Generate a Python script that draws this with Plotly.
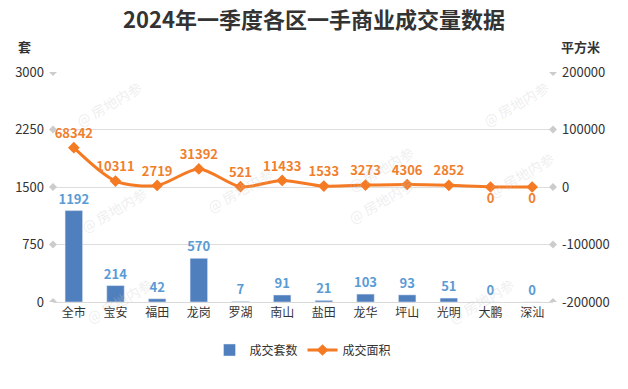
import plotly.graph_objects as go

categories = ["全市", "宝安", "福田", "龙岗", "罗湖", "南山", "盐田", "龙华", "坪山", "光明", "大鹏", "深汕"]
units = [1192, 214, 42, 570, 7, 91, 21, 103, 93, 51, 0, 0]
area = [68342, 10311, 2719, 31392, 521, 11433, 1533, 3273, 4306, 2852, 0, 0]
left_ticks = [0, 750, 1500, 2250, 3000]
right_ticks = [-200000, -100000, 0, 100000, 200000]

FONT = "Noto Sans CJK SC"
BAR_C = "#4F7FBD"
LINE_C = "#F47A24"

W, H = 628, 389
ml, mr, mt, mb = 53, 75, 72, 87
pw, ph = W - ml - mr, H - mt - mb

def px(x):
    return (x - ml) / pw

def py(y):
    return (H - mb - y) / ph

fig = go.Figure()
fig.add_trace(go.Bar(
    x=categories, y=units, name="成交套数", marker_color=BAR_C,
    text=[str(v) for v in units], textposition="outside", constraintext="none",
    textfont=dict(color="#5B9BD5", size=13, family=FONT, weight="bold"),
    cliponaxis=False, yaxis="y",
))
pos = ["top center"] * 10 + ["bottom center"] * 2
fig.add_trace(go.Scatter(
    x=categories, y=area, name="成交面积", mode="lines+markers+text",
    line=dict(color=LINE_C, width=3, shape="spline", smoothing=0.8),
    marker=dict(symbol="diamond", size=9, color=LINE_C),
    text=[str(v) for v in area], textposition=pos,
    textfont=dict(color="#F07F2E", size=13, family=FONT, weight="bold"),
    cliponaxis=False, yaxis="y2",
))

annotations = [
    dict(text="<b>套</b>", x=px(24), y=py(47), xref="paper", yref="paper", showarrow=False,
         xanchor="center", yanchor="middle", font=dict(size=13, color="#333", family=FONT)),
    dict(text="<b>平方米</b>", x=px(580), y=py(47), xref="paper", yref="paper", showarrow=False,
         xanchor="center", yanchor="middle", font=dict(size=13, color="#333", family=FONT)),
]
for (wx, wy) in [(70, 75), (555, 75), (75, 210), (240, 190), (420, 140), (560, 175), (420, 230), (80, 330), (520, 330)]:
    annotations.append(dict(text="@ 房地内参", x=px(wx), y=py(wy), xref="paper", yref="paper",
                            showarrow=False, textangle=-30,
                            font=dict(size=14, color="rgba(200,200,200,0.3)", family=FONT)))

diamond = "M -4 0 L 0 4 L 4 0 L 0 -4 Z"
shapes = []
for t in left_ticks:
    shapes.append(dict(type="path", xref="paper", yref="y", xsizemode="pixel", ysizemode="pixel",
                       xanchor=0, yanchor=t, path=diamond, fillcolor="#CCCCCC", line=dict(width=0)))
for t in right_ticks:
    shapes.append(dict(type="path", xref="paper", yref="y2", xsizemode="pixel", ysizemode="pixel",
                       xanchor=1, yanchor=t, path=diamond, fillcolor="#CCCCCC", line=dict(width=0)))

fig.update_layout(
    width=W, height=H,
    margin=dict(l=ml, r=mr, t=mt, b=mb, autoexpand=False),
    paper_bgcolor="white", plot_bgcolor="white",
    title=dict(text="<b>2024年一季度各区一手商业成交量数据</b>", x=0.5, xref="container",
               y=1 - 20 / H, yref="container",
               xanchor="center", yanchor="middle", font=dict(size=22, color="#333", family=FONT)),
    font=dict(family=FONT, size=12, color="#333"),
    bargap=0.58,
    showlegend=True,
    legend=dict(orientation="h", x=0.5, xanchor="center", y=py(350), yanchor="middle",
                font=dict(size=12, color="#333", family=FONT)),
    xaxis=dict(showline=True, linecolor="#D9D9D9", ticks="", automargin=False,
               range=[-0.5, len(categories) - 0.5],
               tickfont=dict(size=12, color="#333")),
    yaxis=dict(range=[0, 3000], tickvals=left_ticks, showgrid=True, gridcolor="#DDDDDD",
               zeroline=False, ticks="", automargin=False,
               tickfont=dict(size=13, color="#333"), ticklabelstandoff=8),
    yaxis2=dict(range=[-200000, 200000], tickvals=right_ticks, ticktext=[str(v) for v in right_ticks],
                overlaying="y", side="right", automargin=False,
                showgrid=False, zeroline=False, ticks="", tickfont=dict(size=13, color="#333"),
                ticklabelstandoff=8),
    annotations=annotations,
    shapes=shapes,
)

fig.write_html("out.html", config={"displayModeBar": False},
               post_script="document.body.style.margin='0';document.body.style.overflow='hidden';")
